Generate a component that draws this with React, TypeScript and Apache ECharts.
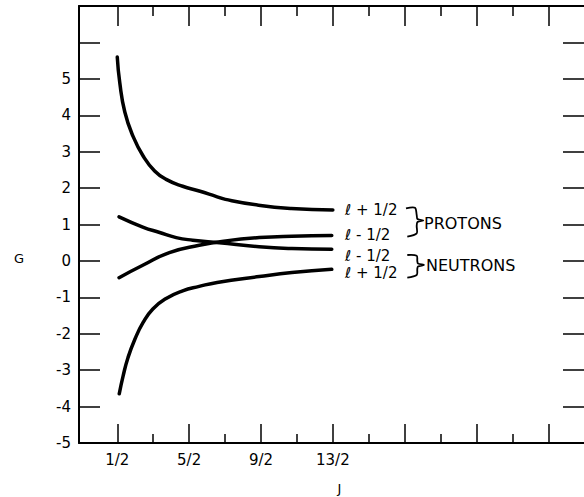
import { useEffect, useRef } from "react";
import * as echarts from "echarts";

// Tick positions (J values)
const J_MAJOR_TICKS = [0.5, 2.5, 4.5, 6.5, 8.5, 10.5, 12.5];
const J_MINOR_TICKS = [1.5, 3.5, 5.5, 7.5, 9.5, 11.5];
const J_LABEL_TICKS = [0.5, 2.5, 4.5, 6.5];

// Curve: protons l+1/2
const J_PROT_PLUS = [0.5, 0.57, 0.71, 0.94, 1.22, 1.54, 1.86, 2.32, 2.78, 3.28, 3.51, 4.43, 5.34, 6.5];
const G_PROT_PLUS = [5.6, 4.89, 4.09, 3.42, 2.88, 2.47, 2.24, 2.05, 1.92, 1.76, 1.69, 1.53, 1.44, 1.4];

// Curve: protons l-1/2
const J_PROT_MINUS = [0.55, 1.21, 1.95, 2.78, 3.52, 4.45, 5.36, 6.47];
const G_PROT_MINUS = [-0.46, -0.12, 0.23, 0.43, 0.55, 0.64, 0.68, 0.7];

// Curve: neutrons l-1/2
const J_NEUT_MINUS = [0.55, 1.21, 1.68, 2.14, 2.6, 3.34, 4.45, 5.36, 6.47];
const G_NEUT_MINUS = [1.21, 0.93, 0.78, 0.64, 0.57, 0.5, 0.39, 0.34, 0.32];

// Curve: neutrons l+1/2
const J_NEUT_PLUS = [0.555, 0.665, 0.8, 0.99, 1.22, 1.49, 1.86, 2.32, 2.78, 3.28, 4.45, 5.36, 6.47];
const G_NEUT_PLUS = [-3.65, -3.15, -2.65, -2.15, -1.69, -1.32, -1.03, -0.82, -0.7, -0.59, -0.43, -0.32, -0.23];

const INK = "#000";
const FONT = "DejaVu Sans";

const pairs = (xs: number[], ys: number[]) => xs.map((x, i) => [x, ys[i]]);

const curve = (name: string, xs: number[], ys: number[]) => ({
  name,
  type: "line",
  data: pairs(xs, ys),
  smooth: 0.5,
  symbol: "none",
  lineStyle: { color: INK, width: 3.5, cap: "round", join: "round" },
  xAxisIndex: 0,
  yAxisIndex: 0,
});

const txt = (text: string, x: number, y: number, size: number, align = "left") => ({
  type: "text",
  x,
  y,
  style: {
    text,
    fill: INK,
    fontSize: size,
    fontFamily: FONT,
    textAlign: align,
    textVerticalAlign: "middle",
    align,
    verticalAlign: "middle",
  },
});

const bracket = (pts: number[][]) => ({
  type: "polyline",
  shape: { points: pts, smooth: 0.3 },
  style: { stroke: INK, lineWidth: 1.8, fill: "none" },
});

const xBase = {
  type: "value",
  min: -0.565,
  max: 13.49,
  splitLine: { show: false },
  gridIndex: 0,
};

export default function App() {
  const ref = useRef<HTMLDivElement>(null);
  useEffect(() => {
    document.body.style.margin = "0";
    document.body.style.overflow = "hidden";
    document.documentElement.style.overflow = "hidden";
    if (!ref.current) return;
    const chart = echarts.init(ref.current, null, { renderer: "svg" });
    chart.setOption({
      animation: false,
      backgroundColor: "#fff",
      grid: { left: 79, top: 6, right: -3, bottom: 54 },
      xAxis: [
        {
          ...xBase,
          position: "bottom",
          axisLine: { show: true, onZero: false, lineStyle: { color: INK, width: 2 } },
          axisTick: {
            show: true,
            inside: true,
            length: 19,
            customValues: J_MAJOR_TICKS,
            lineStyle: { color: INK, width: 1.5 },
          },
          axisLabel: {
            show: true,
            customValues: J_LABEL_TICKS,
            margin: 9,
            color: INK,
            fontSize: 15,
            fontFamily: FONT,
            formatter: (v: number) => `${Math.round(v * 2)}/2`,
          },
        },
        {
          ...xBase,
          position: "bottom",
          axisLine: { show: false, onZero: false },
          axisTick: {
            show: true,
            inside: true,
            length: 9,
            customValues: J_MINOR_TICKS,
            lineStyle: { color: INK, width: 1.5 },
          },
          axisLabel: { show: false },
        },
        {
          ...xBase,
          position: "top",
          axisLine: { show: true, onZero: false, lineStyle: { color: INK, width: 2 } },
          axisTick: {
            show: true,
            inside: true,
            length: 20,
            customValues: J_MAJOR_TICKS,
            lineStyle: { color: INK, width: 1.5 },
          },
          axisLabel: { show: false },
        },
        {
          ...xBase,
          position: "top",
          axisLine: { show: false, onZero: false },
          axisTick: {
            show: true,
            inside: true,
            length: 10,
            customValues: J_MINOR_TICKS,
            lineStyle: { color: INK, width: 1.5 },
          },
          axisLabel: { show: false },
        },
      ],
      yAxis: [
        {
          type: "value",
          position: "left",
          min: -5,
          max: 7,
          interval: 1,
          splitLine: { show: false },
          axisLine: { show: true, onZero: false, lineStyle: { color: INK, width: 2 } },
          axisTick: { show: true, inside: true, length: 21, lineStyle: { color: INK, width: 1.5 } },
          axisLabel: {
            color: INK,
            fontSize: 15,
            fontFamily: FONT,
            margin: 8,
            formatter: (v: number) => (v > 5 ? "" : String(v)),
          },
        },
        {
          type: "value",
          position: "right",
          min: -5,
          max: 7,
          interval: 1,
          splitLine: { show: false },
          axisLine: { show: false, onZero: false },
          axisTick: { show: true, inside: true, length: 21, lineStyle: { color: INK, width: 1.5 } },
          axisLabel: { show: false },
        },
      ],
      series: [
        curve("Protons l+1/2", J_PROT_PLUS, G_PROT_PLUS),
        curve("Protons l-1/2", J_PROT_MINUS, G_PROT_MINUS),
        curve("Neutrons l-1/2", J_NEUT_MINUS, G_NEUT_MINUS),
        curve("Neutrons l+1/2", J_NEUT_PLUS, G_NEUT_PLUS),
      ],
      graphic: [
        txt("G", 19, 258, 13, "center"),
        txt("J", 339.5, 488, 13, "center"),
        txt("ℓ + 1/2", 345, 210, 15),
        txt("ℓ - 1/2", 345, 235, 15),
        txt("ℓ - 1/2", 345, 256, 15),
        txt("ℓ + 1/2", 345, 273, 15),
        bracket([[406, 208.3], [415, 207.7], [416.7, 215], [417.5, 219], [423.3, 220.5], [417.5, 222], [416.7, 226], [416.7, 233.3], [407.3, 236.7]]),
        bracket([[407.3, 255], [416.7, 255.7], [417.3, 261], [418, 263.5], [424, 265], [418, 266.5], [417.3, 269], [416.7, 275], [407.3, 277.7]]),
        txt("PROTONS", 424, 223, 16),
        txt("NEUTRONS", 426, 265, 16),
      ],
    });
    return () => chart.dispose();
  }, []);
  return <div ref={ref} style={{ width: 584, height: 497 }} />;
}
